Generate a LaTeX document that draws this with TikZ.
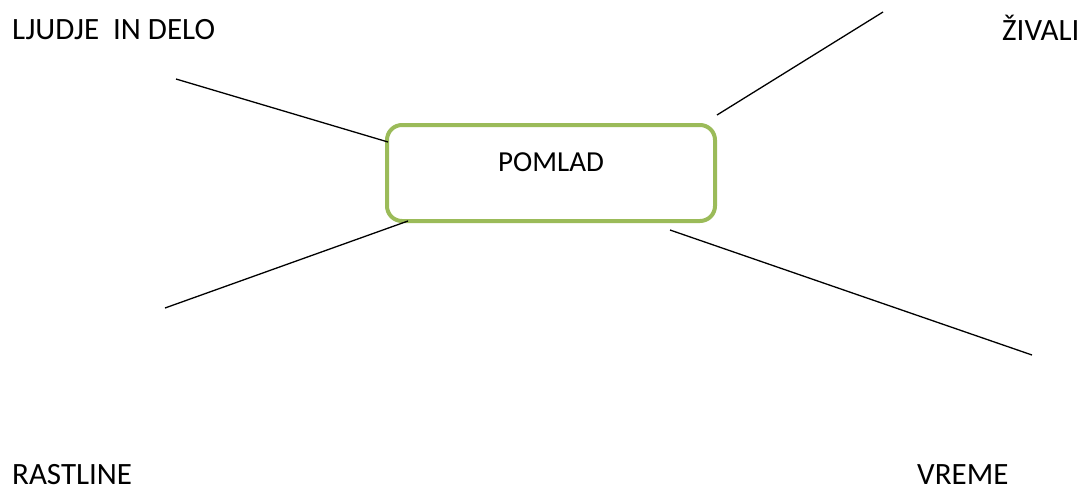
\documentclass[tikz,border=0pt]{standalone}
\usepackage{fontspec}
\setmainfont{Carlito}
\definecolor{boxgreen}{RGB}{155,187,89}
\begin{document}
\begin{tikzpicture}[x=1pt,y=-1pt,
  lbl/.style={font=\fontsize{31}{36}\selectfont, inner sep=0pt, anchor=base west},
  conn/.style={draw=black, line width=1.3pt},
  centerbox/.style={draw=boxgreen, line width=4pt, rounded corners=15pt, minimum width=328pt, minimum height=96pt, inner sep=0pt}]
\useasboundingbox (0,0) rectangle (1086,488);
\node[centerbox] (box) at (551,173) {};
\node[lbl, anchor=base, font=\fontsize{29}{34}\selectfont] (pomlad) at (551,171) {POMLAD};
\node[lbl] (ljudje) at (12,39) {LJUDJE\ \ IN DELO};
\node[lbl] (zivali) at (1002,40) {ŽIVALI};
\node[lbl] (rastline) at (12,484) {RASTLINE};
\node[lbl] (vreme) at (917,484) {VREME};
\coordinate (a1) at (176,79);
\coordinate (a2) at (388,142);
\coordinate (b1) at (717,115);
\coordinate (b2) at (883,12);
\coordinate (c1) at (165,308);
\coordinate (c2) at (408,221);
\coordinate (d1) at (670,230);
\coordinate (d2) at (1032,355);
\draw[conn] (a1) -- (a2);
\draw[conn] (b1) -- (b2);
\draw[conn] (c1) -- (c2);
\draw[conn] (d1) -- (d2);
\end{tikzpicture}
\end{document}
